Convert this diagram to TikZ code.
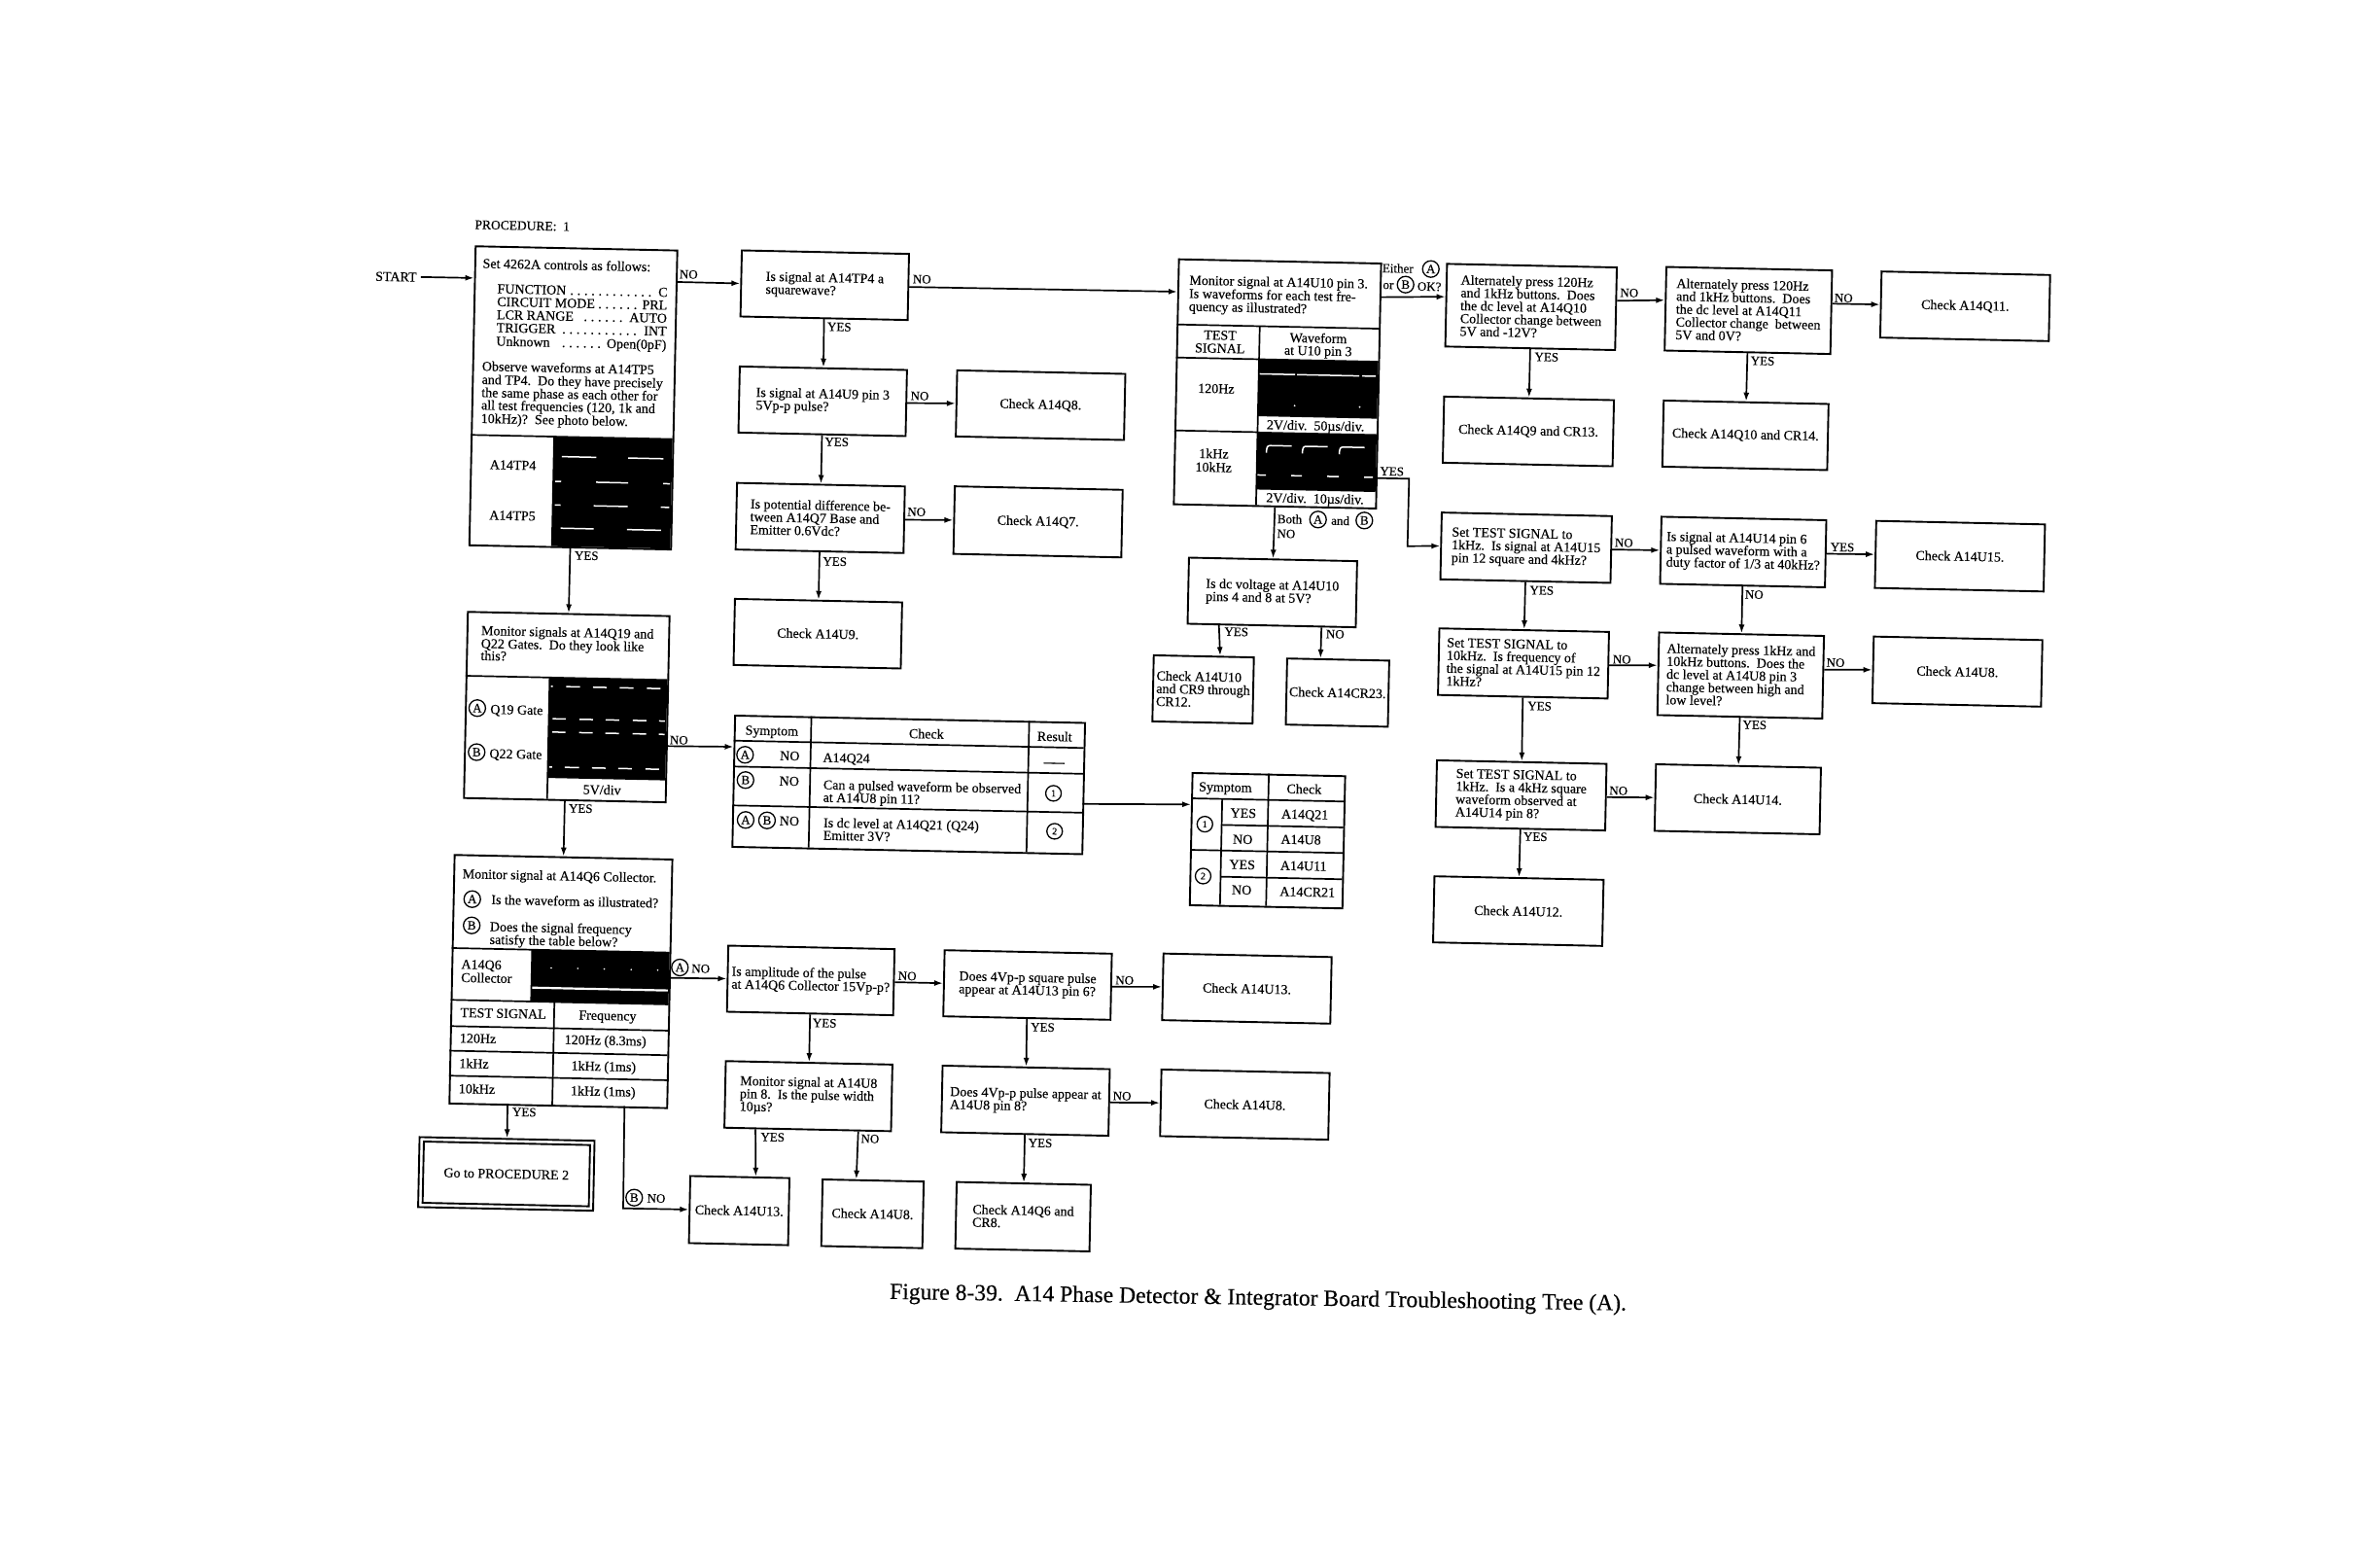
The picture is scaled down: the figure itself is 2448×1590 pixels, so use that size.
\documentclass[tikz,border=0pt]{standalone}
\usepackage{fontspec}
\setmainfont[FakeBold=0.25]{Liberation Serif}
\usetikzlibrary{arrows.meta,calc}
\newcounter{lblc}
\tikzset{
  x=1pt,y=1pt,
  box/.style={draw=black,line width=1.9pt,rotate=-1.2,align=left,inner sep=0pt,font=\fontsize{14}{13.2}\selectfont},
  frame/.style={draw=black,line width=1.9pt,inner sep=0pt,minimum width=#1},
  arr/.style={line width=1.7pt,-{Latex[length=9pt,width=6pt]}},
  rule/.style={line width=1.7pt},
  wave/.style={white,line width=1.5pt},
  lab/.style={inner sep=0pt,text height=9.5pt,text depth=0pt,font=\fontsize{14}{14}\selectfont},
  tag/.style={lab,font=\fontsize{13}{13}\selectfont,rotate=-1.2},
  circ/.style={circle,draw=black,line width=1.3pt,inner sep=0pt,minimum size=17pt,font=\fontsize{13}{13}\selectfont},
  dcirc/.style={circ,minimum size=16pt,font=\fontsize{10}{10}\selectfont}
}
\newcommand\bx[6]{\node[box,minimum width=#4pt,minimum height=#5pt] (#1) at (#2,-#3) {#6};}
\newcommand\lbl[4][]{\stepcounter{lblc}\node[lab,anchor=west,#1] (lb\arabic{lblc}) at (#2,-#3) {#4};}
\newcommand\clbl[4][]{\stepcounter{lblc}\node[lab,#1] (lb\arabic{lblc}) at (#2,-#3) {#4};}
\newcommand\tg[4][]{\stepcounter{lblc}\node[tag,#1] (lb\arabic{lblc}) at (#2,-#3) {#4};}
\newcommand\cir[4][]{\stepcounter{lblc}\node[circ,#1] (lb\arabic{lblc}) at (#2,-#3) {#4};}
\newcommand\dcir[3]{\stepcounter{lblc}\node[dcirc] (lb\arabic{lblc}) at (#1,-#2) {#3};}
\newcommand\wv[3]{\draw[wave] (#1,-#3) -- (#2,-#3);}
\newcommand\setline[2]{\makebox[175pt][s]{#1\leaders\hbox to 7.3pt{\hss.\hss}\hfill#2}}
\begin{document}
\begin{tikzpicture}
\useasboundingbox (0,0) rectangle (2448,-1590);
\fill[white] (0,0) rectangle (2448,-1590);

% ---------- free text
\tg[anchor=west,font=\fontsize{14}{14}\selectfont]{386}{284}{START}
\tg[anchor=west,font=\fontsize{13.5}{13.5}\selectfont]{488.3}{230.7}{PROCEDURE:\ \ 1}
\tg[font=\fontsize{23.6}{24}\selectfont,rotate=0.3]{1294}{1337}{Figure 8-39.\ \ A14 Phase Detector \& Integrator Board Troubleshooting Tree (A).}

% ---------- main box
\begin{scope}[shift={(488.3,-252.3)},rotate=-1.2,transform shape]
\fill[black] (85,-195) rectangle (207.5,-307.6);
\wv{94}{129.7}{215.4}\wv{162.3}{198.7}{215.4}
\wv{87.8}{94}{241}\wv{130}{163}{241}\wv{199}{206}{241}
\wv{88}{94}{265.3}\wv{128}{163}{265.3}\wv{197}{205.6}{265.3}
\wv{94.3}{128.3}{289}\wv{162.7}{197.7}{289}
\draw[rule] (0,-195) -- (207.5,-195);
\node[frame=207.5pt,minimum height=307.6pt,anchor=north west] (main) at (0,0) {};
\coordinate (mainin) at (0,-33.6);
\coordinate (mainno) at (207.5,-33.3);
\lbl{8.5}{18.3}{Set 4262A controls as follows:}
\lbl{24}{44}{\setline{FUNCTION}{C}}
\lbl{24}{57.3}{\setline{CIRCUIT MODE}{PRL}}
\lbl{24}{70.7}{\setline{LCR RANGE\ }{AUTO}}
\lbl{24}{84}{\setline{TRIGGER}{INT}}
\lbl{24}{98}{\setline{Unknown\ }{Open(0pF)}}
\lbl{10}{124}{Observe waveforms at A14TP5}
\lbl{10}{137.7}{and TP4.\ \ Do they have precisely}
\lbl{10}{151}{the same phase as each other for}
\lbl{10}{164}{all test frequencies (120, 1k and}
\lbl{10}{177.7}{10kHz)?\ \ See photo below.}
\clbl{44}{225}{A14TP4}
\clbl{44.5}{277}{A14TP5}
\end{scope}

% ---------- Q19 box
\begin{scope}[shift={(480.3,-628.3)},rotate=-1.2,transform shape]
\fill[black] (86.5,-66.7) rectangle (207.5,-170);
\wv{88}{90}{75.7}\wv{103.7}{118}{75.7}\wv{131.3}{145.3}{75.7}\wv{158.7}{173}{75.7}\wv{186.7}{200.7}{75.7}
\wv{90.3}{104}{109}\wv{118}{132}{109}\wv{145}{159}{109}\wv{173}{187}{109}\wv{200}{206}{109}
\wv{90.3}{104}{122.7}\wv{118}{132}{122.7}\wv{145}{159}{122.7}\wv{173}{187}{122.7}\wv{200}{206}{122.7}
\wv{88}{91}{158.7}\wv{104}{118.7}{158.7}\wv{132}{146}{158.7}\wv{159}{173}{158.7}\wv{187}{201}{158.7}
\draw[rule] (0,-66.7) -- (207.5,-66.7);
\draw[rule] (86.5,-66.7) -- (86.5,-191.5);
\node[frame=207.5pt,minimum height=191.5pt,anchor=north west] (q19) at (0,0) {};
\coordinate (q19no) at (207.5,-134.7);
\lbl{15}{19.7}{Monitor signals at A14Q19 and}
\lbl{15}{33}{Q22 Gates.\ \ Do they look like}
\lbl{15}{45.5}{this?}
\cir{12.7}{99.7}{A}\lbl{26}{100.5}{Q19 Gate}
\cir{13}{145}{B}\lbl{26}{146}{Q22 Gate}
\clbl{142.7}{181}{5V/div}
\end{scope}

% ---------- Q6 box
\begin{scope}[shift={(466.7,-878.3)},rotate=-1.2,transform shape]
\fill[black] (82.7,-96.7) rectangle (224,-150);
\draw[white,line width=2.2pt] (83,-135.7) -- (223,-135.7);
\foreach \px in {102.7,130,157.3,185,212.3}{\fill[white] (\px,-115) circle (0.9pt);}
\draw[rule] (0,-96.7) -- (224,-96.7);
\draw[rule] (0,-150) -- (224,-150);
\draw[rule] (0,-177) -- (224,-177);
\draw[rule] (0,-202.3) -- (224,-202.3);
\draw[rule] (0,-228) -- (224,-228);
\draw[rule] (106.7,-150) -- (106.7,-255.7);
\draw[rule] (82.7,-96.7) -- (82.7,-150);
\node[frame=224pt,minimum height=255.7pt,anchor=north west] (q6) at (0,0) {};
\coordinate (q6a) at (224,-122.7);
\coordinate (q6yes) at (60.7,-255.7);
\coordinate (q6b) at (181,-255.7);
\lbl{9.3}{20}{Monitor signal at A14Q6 Collector.}
\cir{20}{46}{A}\lbl{39.5}{46}{Is the waveform as illustrated?}
\cir{20}{73}{B}\lbl{38.6}{73.7}{Does the signal frequency}
\lbl{38.6}{87}{satisfy the table below?}
\lbl{10}{113}{A14Q6}
\lbl{10}{126.7}{Collector}
\lbl{10}{162.7}{TEST SIGNAL}
\clbl{161.7}{162.7}{Frequency}
\lbl{10}{189}{120Hz}\clbl{160}{188.3}{120Hz (8.3ms)}
\lbl{10}{215}{1kHz}\clbl{158.7}{215}{1kHz (1ms)}
\lbl{10}{241}{10kHz}\clbl{158.7}{240.7}{1kHz (1ms)}
\end{scope}

% ---------- U10 box
\begin{scope}[shift={(1211.7,-265.7)},rotate=-1.2,transform shape]
\fill[black] (85.5,-102) rectangle (208,-160.6);
\fill[black] (85.5,-176.5) rectangle (208,-236);
\wv{86}{123}{117}\wv{125}{189}{117}\wv{192}{206}{117}
\fill[white] (123,-149) circle (1pt);\fill[white] (190,-149) circle (1pt);
\foreach \a/\b in {95/121,132/158,170/196}{
  \draw[wave] (\a,-198) .. controls (\a,-192) and (\a+1,-190.5) .. (\a+4,-190.5) -- (\b,-190.5);}
\wv{86}{95}{221}\wv{121}{132}{221}\wv{158}{170}{221}\wv{196}{205}{221}
\draw[rule] (0,-68) -- (208,-68);
\draw[rule] (0,-102) -- (208,-102);
\draw[rule] (0,-177) -- (85.5,-177);
\draw[rule] (85.5,-68) -- (85.5,-252);
\node[frame=208pt,minimum height=252pt,anchor=north west] (u10) at (0,0) {};
\coordinate (u10in) at (0,-34.3);
\coordinate (u10yes) at (208,-221.7);
\lbl{12}{22}{Monitor signal at A14U10 pin 3.}
\lbl{12}{35.7}{Is waveforms for each test fre-}
\lbl{12}{49}{quency as illustrated?}
\clbl{45}{78}{TEST}\clbl{45}{91.5}{SIGNAL}
\clbl{146}{79}{Waveform}\clbl{146}{92}{at U10 pin 3}
\clbl{42}{133}{120Hz}
\clbl{41}{200}{1kHz}\clbl{41}{214}{10kHz}
\clbl{145}{169}{2V/div.\ \ 50µs/div.}
\clbl{146}{244}{2V/div.\ \ 10µs/div.}
\end{scope}

% ---------- symptom table
\begin{scope}[shift={(755.2,-735)},rotate=-1.2,transform shape]
\draw[rule] (0,-26.7) -- (360,-26.7);
\draw[rule] (0,-53.3) -- (360,-53.3);
\draw[rule] (0,-93.3) -- (360,-93.3);
\draw[rule] (79.4,0) -- (79.4,-135);
\draw[rule] (303.5,0) -- (303.5,-135);
\node[frame=360pt,minimum height=135pt,anchor=north west] (tbl) at (0,0) {};
\coordinate (tin) at (0,-33);
\coordinate (tout) at (360,-84.3);
\clbl{39}{15.5}{Symptom}\clbl{198}{15.5}{Check}\clbl{330}{15.5}{Result}
\cir{12}{41}{A}\clbl{58}{41}{NO}\lbl{92}{42}{A14Q24}\clbl[font=\fontsize{21}{21}\selectfont,text height=14pt]{330}{41}{---}
\cir{13}{67}{B}\clbl{58}{67}{NO}
\lbl{93}{70}{Can a pulsed waveform be observed}\lbl{93}{83}{at A14U8 pin 11?}
\dcir{330}{74}{1}
\cir{14}{108}{A}\cir{36}{108}{B}\clbl{59}{108}{NO}
\lbl{94}{109}{Is dc level at A14Q21 (Q24)}\lbl{94}{122}{Emitter 3V?}
\dcir{332}{113}{2}
\end{scope}

% ---------- result table
\begin{scope}[shift={(1225.7,-794)},rotate=-1.2,transform shape]
\draw[rule] (0,-27) -- (157,-27);
\draw[rule] (0,-80) -- (157,-80);
\draw[rule] (32,-53.7) -- (157,-53.7);
\draw[rule] (32,-107) -- (157,-107);
\draw[rule] (79.4,0) -- (79.4,-136);
\draw[rule] (32,-27) -- (32,-136);
\node[frame=157pt,minimum height=136pt,anchor=north west] (res) at (0,0) {};
\coordinate (resin) at (0,-33.3);
\clbl{35}{14.7}{Symptom}\clbl{116}{15}{Check}
\dcir{14.7}{53.3}{1}\dcir{14}{106.7}{2}
\clbl{54}{41}{YES}\clbl{54}{68}{NO}\clbl{54}{94}{YES}\clbl{54}{120}{NO}
\lbl{93}{41}{A14Q21}\lbl{93}{67}{A14U8}\lbl{93}{94}{A14U11}\lbl{93}{120.7}{A14CR21}
\end{scope}

% ---------- simple boxes
\bx{sq}{848.3}{293.3}{172}{68}{Is signal at A14TP4 a\\squarewave?}
\bx{u9q}{846.2}{412.7}{172}{68}{Is signal at A14U9 pin 3\\5Vp-p pulse?}
\bx{pot}{843.7}{532.7}{172.7}{68.5}{Is potential difference be-\\tween A14Q7 Base and\\Emitter 0.6Vdc?}
\bx{chk9}{841.2}{651.7}{172}{68}{Check A14U9.}
\bx{q8}{1070.3}{416.7}{173}{68}{Check A14Q8.}
\bx{q7}{1067.7}{536.7}{172.7}{69.5}{Check A14Q7.}
\bx{dc}{1308.7}{609.3}{173}{68}{Is dc voltage at A14U10\\pins 4 and 8 at 5V?}
\bx{u10k}{1237.5}{709}{103}{68}{Check A14U10\\and CR9 through\\CR12.}
\bx{cr23}{1375.7}{712.3}{105}{68}{Check A14CR23.}
\bx{alt1}{1574.8}{315.7}{174.7}{85}{Alternately press 120Hz\\and 1kHz buttons.\ \ Does\\the dc level at A14Q10\\Collector change between\\5V and -12V?}
\bx{alt2}{1798.3}{319.3}{170.5}{86}{Alternately press 120Hz\\and 1kHz buttons.\ \ Does\\the dc level at A14Q11\\Collector change\ \ between\\5V and 0V?}
\bx{q11}{2021.3}{315}{173.4}{68}{Check A14Q11.}
\bx{q9}{1572}{443.7}{174.7}{68}{Check A14Q9 and CR13.}
\bx{q10}{1795.3}{447.7}{169.6}{68}{Check A14Q10 and CR14.}
\bx{set1}{1569.7}{563.3}{175}{68.7}{Set TEST SIGNAL to\\1kHz.\ \ Is signal at A14U15\\pin 12 square and 4kHz?}
\bx{pulse}{1793}{567.7}{169.6}{69}{Is signal at A14U14 pin 6\\a pulsed waveform with a\\duty factor of 1/3 at 40kHz?}
\bx{u15}{2015.9}{572}{173.6}{69}{Check A14U15.}
\bx{set2}{1567}{682.3}{174.5}{68.5}{Set TEST SIGNAL to\\10kHz.\ \ Is frequency of\\the signal at A14U15 pin 12\\1kHz?}
\bx{alt3}{1790.4}{694.7}{169.6}{85}{Alternately press 1kHz and\\10kHz buttons.\ \ Does the\\dc level at A14U8 pin 3\\change between high and\\low level?}
\bx{u8a}{2013.3}{690.7}{173.5}{68.5}{Check A14U8.}
\bx{set3}{1564.5}{818}{174.5}{68.5}{Set TEST SIGNAL to\\1kHz.\ \ Is a 4kHz square\\waveform observed at\\A14U14 pin 8?}
\bx{u14}{1787.4}{822}{169.7}{68.5}{Check A14U14.}
\bx{u12}{1561.7}{937}{174}{68}{Check A14U12.}
\bx{amp}{833.9}{1008.3}{171}{68}{Is amplitude of the pulse\\at A14Q6 Collector 15Vp-p?}
\bx{mon8}{831.5}{1127.3}{171.4}{68.5}{Monitor signal at A14U8\\pin 8.\ \ Is the pulse width\\10µs?}
\bx{u13a}{760.3}{1245}{102}{69}{Check A14U13.}
\bx{u8b}{897.4}{1248.3}{104}{68.5}{Check A14U8.}
\bx{sq4}{1056.9}{1013}{172}{68}{Does 4Vp-p square pulse\\appear at A14U13 pin 6?}
\bx{u13b}{1282.5}{1016.7}{173}{68.5}{Check A14U13.}
\bx{p4}{1054.8}{1132}{172}{68.5}{Does 4Vp-p pulse appear at\\A14U8 pin 8?}
\bx{u8c}{1280.4}{1136}{173}{68.5}{Check A14U8.}
\bx{cr8}{1052.3}{1251.3}{138}{68.5}{Check A14Q6 and\\CR8.}
\bx{goto}{520.8}{1207.3}{180}{72}{}
\bx{goto2}{520.8}{1207.3}{171}{63}{Go to PROCEDURE 2}

% ---------- connectors
\coordinate (u10c1) at (1449.3,-492.3);
\coordinate (u10c2) at (1447.7,-561.7);
\coordinate (q6bc) at (641,-1242.7);
\draw[arr] (lb1.east) ++(4,0) -- (mainin);
\draw[arr] (mainno) -- (sq.west);
\draw[arr] (main.south) -- (q19.north);
\draw[arr] (q19.south) -- (q6.north);
\draw[arr] (q19no) -- (tin);
\draw[arr] (tout) -- (resin);
\draw[arr] (q6a) -- (amp.west);
\draw[arr] (q6yes) -- (goto.north);
\draw[arr] (q6b) -- (q6bc) -- (u13a.west);
\draw[arr] (sq.east) -- (u10in);
\draw[arr] (sq.south) -- (u9q.north);
\draw[arr] (u9q.east) -- (q8.west);
\draw[arr] (u9q.south) -- (pot.north);
\draw[arr] (pot.east) -- (q7.west);
\draw[arr] (pot.south) -- (chk9.north);
\draw[arr] ($(u10.north east)!.14!(u10.south east)$) -- ($(alt1.north west)!.4!(alt1.south west)$);
\draw[arr] (u10yes) -- (u10c1) -- (u10c2) -- (set1.west);
\draw[arr] (u10.south) -- (dc.north);
\draw[arr] ($(dc.south west)!.19!(dc.south east)$) -- ($(u10k.north west)!.66!(u10k.north east)$);
\draw[arr] ($(dc.south west)!.793!(dc.south east)$) -- ($(cr23.north west)!.33!(cr23.north east)$);
\draw[arr] ($(alt1.north east)!.405!(alt1.south east)$) -- ($(alt2.north west)!.4!(alt2.south west)$);
\draw[arr] ($(alt2.north east)!.4!(alt2.south east)$) -- (q11.west);
\draw[arr] (alt1.south) -- (q9.north);
\draw[arr] (alt2.south) -- (q10.north);
\draw[arr] (set1.east) -- (pulse.west);
\draw[arr] (pulse.east) -- (u15.west);
\draw[arr] (set1.south) -- (set2.north);
\draw[arr] (pulse.south) -- (alt3.north);
\draw[arr] (set2.east) -- ($(alt3.north west)!.4!(alt3.south west)$);
\draw[arr] ($(alt3.north east)!.41!(alt3.south east)$) -- (u8a.west);
\draw[arr] (set2.south) -- (set3.north);
\draw[arr] (alt3.south) -- (u14.north);
\draw[arr] (set3.east) -- (u14.west);
\draw[arr] (set3.south) -- (u12.north);
\draw[arr] (amp.east) -- (sq4.west);
\draw[arr] (amp.south) -- (mon8.north);
\draw[arr] ($(mon8.south west)!.19!(mon8.south east)$) -- ($(u13a.north west)!.657!(u13a.north east)$);
\draw[arr] ($(mon8.south west)!.8!(mon8.south east)$) -- ($(u8b.north west)!.336!(u8b.north east)$);
\draw[arr] (sq4.east) -- (u13b.west);
\draw[arr] (sq4.south) -- (p4.north);
\draw[arr] (p4.east) -- (u8c.west);
\draw[arr] (p4.south) -- (cr8.north);

% ---------- connector labels
\tg{708.3}{281.7}{NO}\tg{603.3}{571}{YES}
\tg{597.3}{831}{YES}\tg{698.3}{760.7}{NO}
\cir[rotate=-1.2]{699.3}{995}{A}\tg{720.7}{995.7}{NO}
\tg{539.3}{1143.3}{YES}
\cir[rotate=-1.2]{652.3}{1231.7}{B}\tg{675}{1232}{NO}
\tg{948.3}{286.7}{NO}\tg{863.3}{335.7}{YES}
\tg{946}{406.7}{NO}\tg{860.7}{454}{YES}
\tg{942.7}{526}{NO}\tg{858.7}{577}{YES}
\tg[anchor=west]{1421.7}{275.3}{Either}\cir[rotate=-1.2]{1471.7}{276.7}{A}
\tg[anchor=west]{1422.3}{292.3}{or}\cir[rotate=-1.2]{1445.7}{292.7}{B}\tg[anchor=west]{1457.7}{294}{OK?}
\tg{1431.7}{484.3}{YES}
\tg[anchor=west]{1313.7}{533.3}{Both}\cir[rotate=-1.2]{1355.7}{534.3}{A}
\tg[anchor=west]{1369}{535}{and}\cir[rotate=-1.2]{1403.3}{535.3}{B}
\tg[anchor=west]{1313.3}{548.3}{NO}
\tg{1271.7}{649.3}{YES}\tg{1373.3}{651.7}{NO}
\tg{1675.8}{300.7}{NO}\tg{1590.8}{366.7}{YES}
\tg{1896.3}{306}{NO}\tg{1813}{370.7}{YES}
\tg{1670.3}{557.7}{NO}\tg{1585.8}{606.7}{YES}
\tg{1895}{562.3}{YES}\tg{1804.3}{611}{NO}
\tg{1668.2}{677.7}{NO}\tg{1583.6}{725.7}{YES}
\tg{1888}{681}{NO}\tg{1804.8}{745}{YES}
\tg{1664.7}{812.7}{NO}\tg{1579.3}{860}{YES}
\tg{933.2}{1003.3}{NO}\tg{848.2}{1051.7}{YES}
\tg{794.7}{1169}{YES}\tg{894.9}{1170.7}{NO}
\tg{1156.7}{1007.7}{NO}\tg{1072.5}{1056}{YES}
\tg{1154.1}{1126.7}{NO}\tg{1070}{1175}{YES}
\end{tikzpicture}
\end{document}
